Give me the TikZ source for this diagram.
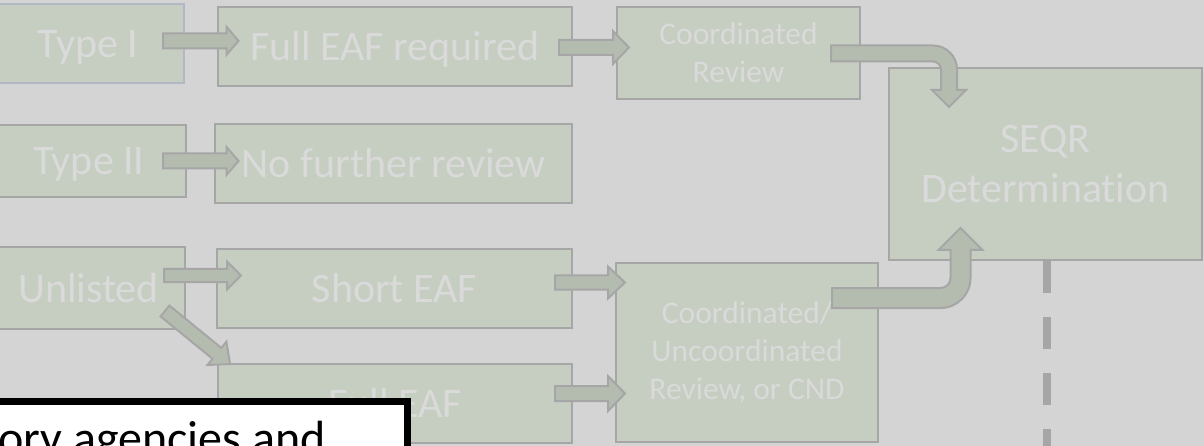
\documentclass[tikz,border=0pt]{standalone}
\usepackage{fontspec}
\setmainfont{Carlito}[Ligatures=NoCommon]
\definecolor{bggray}{HTML}{D4D4D4}
\definecolor{boxfill}{HTML}{C6CEC2}
\definecolor{boxline}{HTML}{A6A6A6}
\definecolor{arrfill}{HTML}{B4BCB0}
\definecolor{faint}{HTML}{D9DAD9}
\definecolor{blueline}{HTML}{B2B8C6}
\tikzset{
  stepbox/.style={draw=boxline, line width=2pt, fill=boxfill, text=faint, inner sep=0pt, font=\fontsize{42}{50}\selectfont},
  oneline/.style={text height=28pt, text depth=0pt},
  smalltext/.style={font=\fontsize{31.5}{38}\selectfont, align=center},
  blockarr/.style={draw=boxline, line width=2pt, fill=arrfill, line join=miter}
}
\begin{document}
\begin{tikzpicture}[x=1pt, y=-1pt]
  \useasboundingbox (0,0) rectangle (1204,446);
  \fill[bggray] (0,0) rectangle (1204,446);

  % project types
  \node[stepbox, oneline, draw=blueline, minimum width=192pt, minimum height=79pt] (typeI) at (88,43.5) {Type I};
  \node[stepbox, oneline, minimum width=194pt, minimum height=72pt] (typeII) at (89,161) {Type II};
  \node[stepbox, oneline, minimum width=193pt, minimum height=82pt] (unlisted) at (88.5,288) {Unlisted};

  % EAF forms
  \node[stepbox, oneline, minimum width=354pt, minimum height=79pt] (fullreq) at (395,46.5) {Full EAF required};
  \node[stepbox, oneline, minimum width=357pt, minimum height=79pt] (nofurther) at (393.5,163.5) {No further review};
  \node[stepbox, oneline, minimum width=355pt, minimum height=79pt] (shorteaf) at (394.5,288.5) {Short EAF};
  \node[stepbox, oneline, minimum width=354pt, minimum height=79pt] (fulleaf) at (395,403.5) {Full EAF};

  % review and determination
  \node[stepbox, smalltext, minimum width=243pt, minimum height=92pt] (coordrev) at (738.5,53) {Coordinated\\Review};
  \node[stepbox, smalltext, minimum width=262pt, minimum height=179pt] (coordunc) at (747,352.5) {Coordinated/\\Uncoordinated\\Review, or CND};
  \node[stepbox, align=center, minimum width=313pt, minimum height=192pt] (seqr) at (1045.5,164) {SEQR\\Determination};

  \draw[boxline, line width=8pt, dash pattern=on 32pt off 24pt] ([xshift=1.5pt]seqr.south) -- ++(0,190);

  % straight block arrows
  \draw[blockarr] (163,33.3) -- (226.5,33.3) -- (226.5,26.8) -- (238.5,40.8) -- (226.5,54.8) -- (226.5,48.3) -- (163,48.3) -- cycle;
  \draw[blockarr] (163,153.5) -- (226.5,153.5) -- (226.5,147) -- (238.5,161) -- (226.5,175) -- (226.5,168.5) -- (163,168.5) -- cycle;
  \draw[blockarr] (559,40) -- (613,40) -- (613,31) -- (629,47.5) -- (613,64) -- (613,55) -- (559,55) -- cycle;
  \draw[blockarr] (164,269) -- (227,269) -- (227,261.5) -- (241,275.5) -- (227,289.5) -- (227,282) -- (164,282) -- cycle;
  \draw[blockarr] (555,275.5) -- (608,275.5) -- (608,266.5) -- (625,282.5) -- (608,298.5) -- (608,289.5) -- (555,289.5) -- cycle;
  \draw[blockarr] (555,386) -- (608,386) -- (608,376) -- (625,393.5) -- (608,411) -- (608,401) -- (555,401) -- cycle;
  \draw[blockarr, shift={(165,311)}, rotate=-39.2] (0,-7) -- (67,-7) -- (67,-15) -- (84,0) -- (67,15) -- (67,7) -- (0,7) -- cycle;

  % bent arrows into SEQR
  \draw[blockarr] (831,45.5) -- (933,45.5) .. controls (946.3,45.5) and (957,56.2) .. (957,69.5) -- (957,90) -- (966,90) -- (949,107) -- (932,90) -- (941,90) -- (941,69.5) .. controls (941,65.1) and (937.4,61.5) .. (933,61.5) -- (831,61.5) -- cycle;
  \draw[blockarr] (832,308) -- (940.5,308) .. controls (957.1,308) and (970.5,294.6) .. (970.5,278) -- (970.5,250) -- (982.5,250) -- (960.5,228) -- (938.5,250) -- (950.5,250) -- (950.5,278) .. controls (950.5,283.5) and (946,288) .. (940.5,288) -- (832,288) -- cycle;

  % callout
  \draw[line width=7pt, fill=white] (-10,401.5) rectangle (407,470);
  \node[anchor=base west, font=\fontsize{48}{58}\selectfont, inner sep=0pt] (note) at (-2,454) {ory agencies and};
\end{tikzpicture}
\end{document}
